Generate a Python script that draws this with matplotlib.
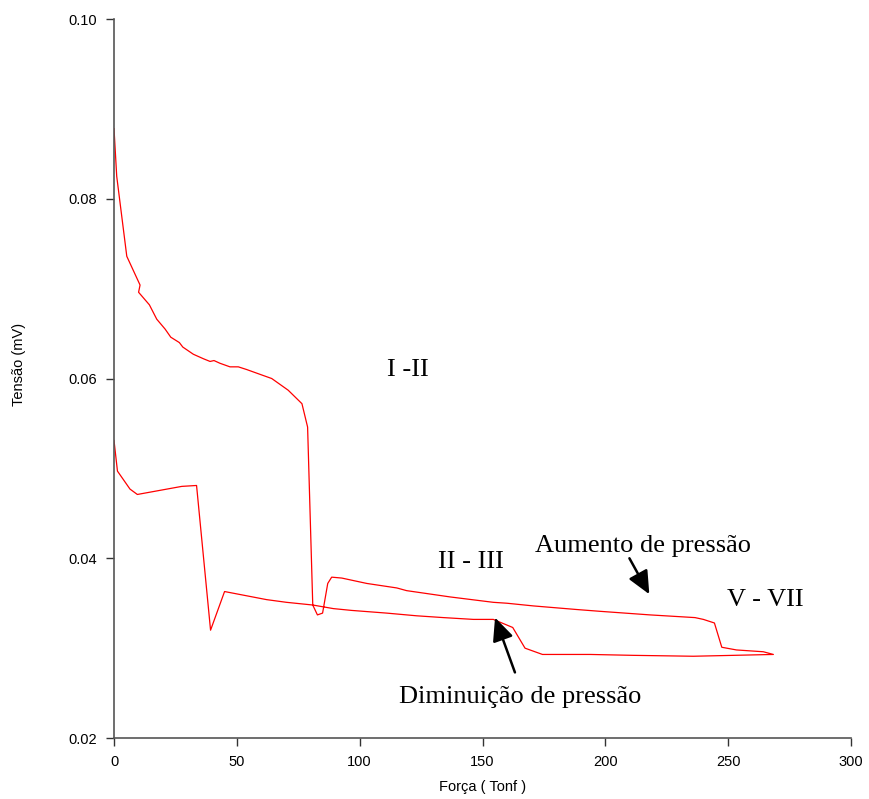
import matplotlib
matplotlib.use("Agg")
import matplotlib.pyplot as plt

# Curva de aumento de pressão (ida)
forca_aumento = [0, 1.1, 5.2, 10.6, 10.0, 14.4, 17.4, 20.8, 23.1, 26.6, 28.0, 32.3,
                 36.4, 39.1, 40.7, 43.1, 47.2, 50.6, 54.0, 60.1, 64.2, 70.9, 76.5,
                 78.8, 80.9, 82.8, 84.9, 87.0, 88.6, 92.7, 102.9, 115.1, 119.1,
                 136.8, 154.4, 159.9, 170.7, 188.3, 197.8, 218.2, 236.5, 239.9,
                 244.4, 247.4, 253.4, 264.3, 268.4]
tensao_aumento = [0.0878, 0.0825, 0.0736, 0.0704, 0.0696, 0.0682, 0.0666, 0.0655,
                  0.0646, 0.0640, 0.0635, 0.0627, 0.0622, 0.0619, 0.0620, 0.0617,
                  0.0613, 0.0613, 0.0610, 0.0604, 0.0600, 0.0587, 0.0572, 0.0546,
                  0.0348, 0.0337, 0.0339, 0.0372, 0.0379, 0.0378, 0.0372, 0.0367,
                  0.0364, 0.0357, 0.0351, 0.0350, 0.0347, 0.0343, 0.0341, 0.0337,
                  0.0334, 0.0332, 0.0328, 0.0301, 0.0298, 0.0296, 0.0293]

# Curva de diminuição de pressão (volta)
forca_diminuicao = [268.4, 252.1, 235.8, 211.4, 193.8, 174.4, 167.3, 162.3, 154.4,
                    146.3, 134.1, 123.2, 111.0, 96.7, 89.3, 80.9, 70.2, 62.1, 45.0,
                    39.3, 33.6, 27.6, 9.5, 6.5, 1.4, 0]
tensao_diminuicao = [0.0293, 0.0292, 0.0291, 0.0292, 0.0293, 0.0293, 0.0300, 0.0323,
                     0.0332, 0.0332, 0.0334, 0.0336, 0.0339, 0.0342, 0.0344, 0.0348,
                     0.0351, 0.0354, 0.0363, 0.0320, 0.0481, 0.0480, 0.0471, 0.0477,
                     0.0497, 0.0531]

x_ticks = [0, 50, 100, 150, 200, 250, 300]
y_ticks = [0.02, 0.04, 0.06, 0.08, 0.10]

fig = plt.figure(figsize=(8.69, 7.99), dpi=100)
ax = fig.add_axes([0.1312, 0.0763, 0.8481, 0.8999])

ax.plot(forca_aumento + forca_diminuicao, tensao_aumento + tensao_diminuicao,
        color="red", lw=0.9)

ax.set_xlim(0, 300)
ax.set_ylim(0.02, 0.10)
ax.set_xticks(x_ticks)
ax.set_yticks(y_ticks)
ax.set_xticklabels([str(t) for t in x_ticks], fontfamily="Liberation Sans", fontsize=10.5)
ax.set_yticklabels(["%.2f" % t for t in y_ticks], fontfamily="Liberation Sans", fontsize=10.5)

for side in ["top", "right"]:
    ax.spines[side].set_visible(False)
for side in ["left", "bottom"]:
    ax.spines[side].set_color("#555555")
    ax.spines[side].set_linewidth(1.2)
ax.tick_params(direction="out", length=6, width=1, color="#333333", pad=6)

ax.set_xlabel("Força ( Tonf )", fontfamily="Liberation Sans", fontsize=10.5, labelpad=8)
ax.set_ylabel("Tensão (mV)", fontfamily="Liberation Sans", fontsize=10.5)
ax.yaxis.set_label_coords(-0.12, 0.52)

serif = dict(fontfamily="Liberation Serif", fontsize=19, ha="center", va="center")
ax.text(119.7, 0.0610, "I -II", **serif)
ax.text(145.3, 0.0396, "II - III", **serif)
ax.text(215.3, 0.0414, "Aumento de pressão", **serif)
ax.text(265.0, 0.0354, "V - VII", **serif)
ax.text(165.3, 0.0246, "Diminuição de pressão", **serif)

seta = dict(arrowstyle="-|>,head_length=0.7,head_width=0.32", mutation_scale=20,
            color="black", lw=1.8, shrinkA=0, shrinkB=0)
ax.annotate("", xy=(217.9, 0.0360), xytext=(209.8, 0.0400), arrowprops=seta)
ax.annotate("", xy=(155.1, 0.0334), xytext=(163.2, 0.0273), arrowprops=seta)

fig.savefig("out.png", dpi=100)
